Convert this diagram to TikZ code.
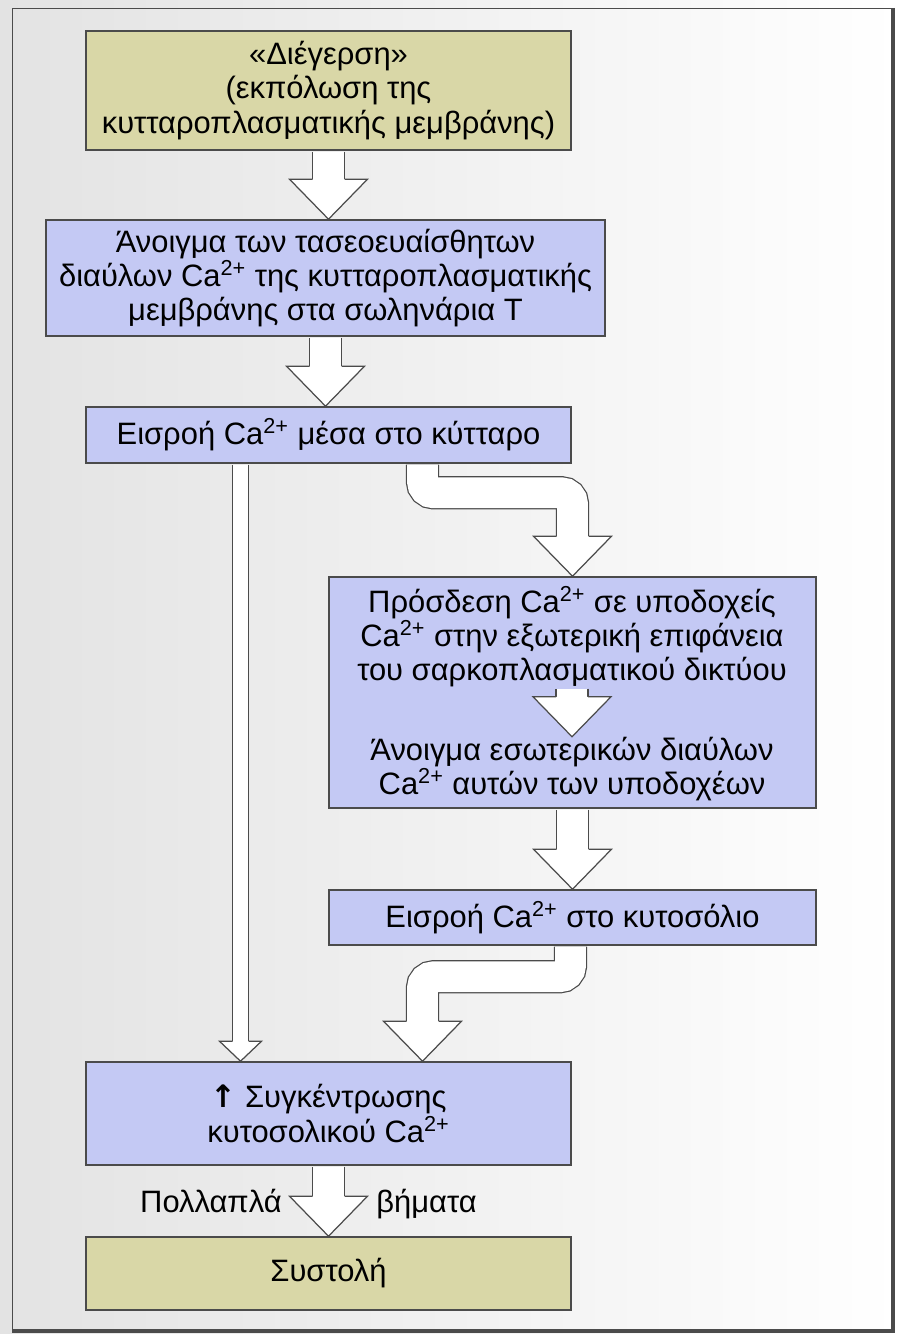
\documentclass[tikz,border=0pt]{standalone}
\usepackage{fontspec}
\setmainfont{Liberation Sans}
\newfontfamily\symfont{DejaVu Sans}
\usetikzlibrary{calc}

\definecolor{boxblue}{RGB}{196,201,244}
\definecolor{boxtan}{RGB}{217,215,167}
\definecolor{rim}{RGB}{75,75,75}
\newcommand{\caion}{Ca\textsuperscript{2+}}

\tikzset{
    txt/.style={inner sep=0pt, align=center, font=\fontsize{17.6pt}{19.4pt}\selectfont},
    box/.style={txt, draw=rim, line width=0.9pt},
    bluebox/.style={box, fill=boxblue},
    tanbox/.style={box, fill=boxtan},
    shaft/.style={draw=rim, line width=0.7pt, double=white, double distance=17.5pt, shorten <=0.5pt},
    thinshaft/.style={draw=rim, line width=0.7pt, double=white, double distance=8.4pt, shorten <=0.5pt},
    bighead/.pic={\filldraw[fill=white, draw=rim, line width=0.7pt] (-16,-40) -- (-39,-40) -- (0,0) -- (39,-40) -- (16,-40);},
    smallhead/.pic={\filldraw[fill=white, draw=rim, line width=0.7pt] (-8,-20) -- (-21,-20) -- (0,0) -- (21,-20) -- (8,-20);}
}

\begin{document}
\begin{tikzpicture}[x=0.02cm, y=-0.02cm]
    \useasboundingbox (0,0) rectangle (899,1334);
    \shade[left color=gray!22, right color=white] (0,0) rectangle (899,1334);
    \draw[rim, line width=0.5pt] (12,1331) -- (12,8) -- (893,8);
    \draw[rim, line width=2pt] (893,8) -- (893,1331) -- (12,1331);

    \node[tanbox, minimum width=9.7cm, minimum height=2.38cm] (d1) at (328.5, 90.5) {«Διέγερση»\\(εκπόλωση της\\κυτταροπλασματικής μεμβράνης)};
    \node[bluebox, minimum width=11.18cm, minimum height=2.32cm] (d2) at (325.5, 278) {Άνοιγμα των τασεοευαίσθητων\\διαύλων \caion{} της κυτταροπλασματικής\\μεμβράνης στα σωληνάρια T};
    \node[bluebox, minimum width=9.7cm, minimum height=1.12cm] (d3) at (328.5, 435) {Εισροή \caion{} μέσα στο κύτταρο};
    \node[bluebox, minimum width=9.74cm, minimum height=4.62cm] (d4) at (572.5, 692.5) {};
    \node[txt] (t4a) at (572, 637) {Πρόσδεση \caion{} σε υποδοχείς\\\caion{} στην εξωτερική επιφάνεια\\του σαρκοπλασματικού δικτύου};
    \node[txt] (t4b) at (572, 769) {Άνοιγμα εσωτερικών διαύλων\\\caion{} αυτών των υποδοχέων};
    \node[bluebox, minimum width=9.74cm, minimum height=1.1cm] (d5) at (572.5, 917.5) {Εισροή \caion{} στο κυτοσόλιο};
    \node[bluebox, minimum width=9.7cm, minimum height=2.06cm] (d6) at (328.5, 1113.5) {{\symfont\bfseries ↑} Συγκέντρωσης\\κυτοσολικού \caion};
    \node[tanbox, minimum width=9.7cm, minimum height=1.46cm] (d7) at (328.5, 1273.5) {Συστολή};
    \node[txt, anchor=base east] (many) at (282, 1212) {Πολλαπλά};
    \node[txt, anchor=base west] (steps) at (376, 1212) {βήματα};

    \draw[shaft] (d1.south) -- ($(d1.south |- d2.north)+(0,-40)$);
    \pic at (d1.south |- d2.north) {bighead};
    \draw[shaft] (d2.south) -- ($(d2.south |- d3.north)+(0,-40)$);
    \pic at (d2.south |- d3.north) {bighead};

    \draw[thinshaft] ($(d3.south)+(-88,0)$) -- ($(d6.north)+(-88,-20)$);
    \pic at ($(d6.north)+(-88,0)$) {smallhead};

    \draw[shaft, rounded corners=0.22cm] ($(d3.south)+(94,0)$) -- ++(0,29) -| ($(d4.north)+(0,-40)$);
    \pic at (d4.north) {bighead};

    \draw[shaft] (t4a.south) -- ($(t4b.north)+(0,-40)$);
    \pic at (t4b.north) {bighead};

    \draw[shaft] (d4.south) -- ($(d5.north)+(0,-40)$);
    \pic at (d5.north) {bighead};

    \draw[shaft, rounded corners=0.22cm] ($(d5.south)+(-2,0)$) -- ++(0,31) -| ($(d6.north)+(94,-40)$);
    \pic at ($(d6.north)+(94,0)$) {bighead};

    \draw[shaft] (d6.south) -- ($(d7.north)+(0,-40)$);
    \pic at (d7.north) {bighead};
\end{tikzpicture}
\end{document}
